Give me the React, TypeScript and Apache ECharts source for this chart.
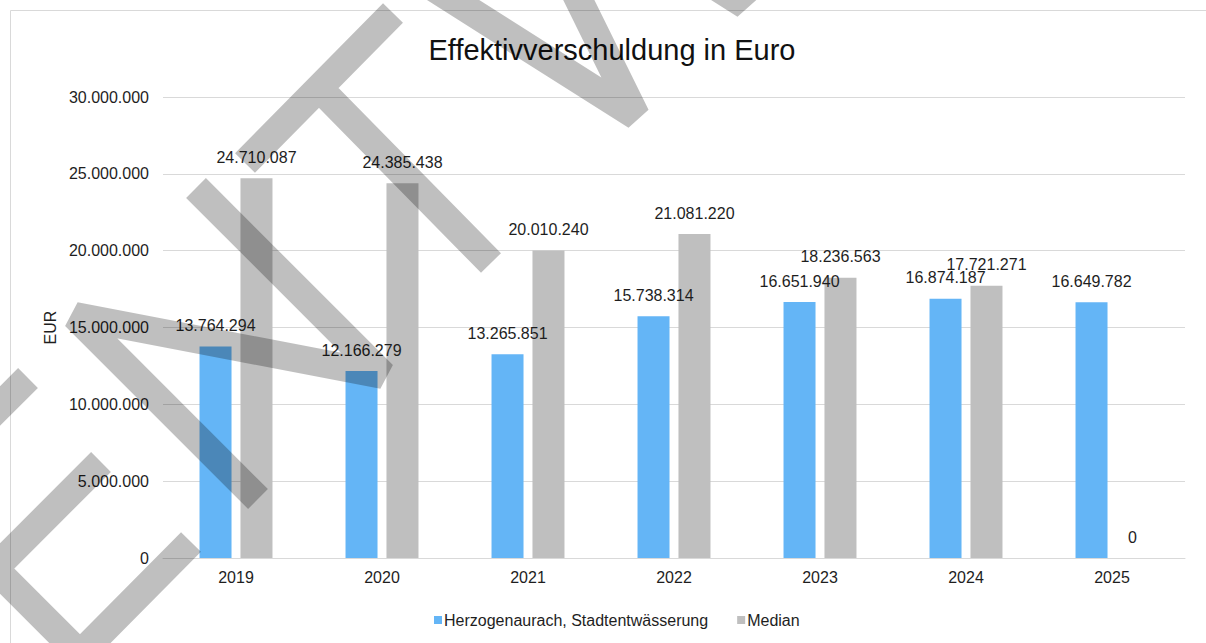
import React, { useEffect, useRef } from "react";
import * as echarts from "echarts";

const years = ["2019", "2020", "2021", "2022", "2023", "2024", "2025"];
const herzogenaurach = [13764294, 12166279, 13265851, 15738314, 16651940, 16874187, 16649782];
const median = [24710087, 24385438, 20010240, 21081220, 18236563, 17721271, 0];
const seriesNames = ["Herzogenaurach, Stadtentwässerung", "Median"];
const titleText = "Effektivverschuldung in Euro";
const axisName = "EUR";
const watermarkPath =
  "M28 378 L-84 490 L80 654 L191 542 M101 462 L-5 568 " +
  "M196 188 L383 375 L75 316 L258 499 " +
  "M245 163 L393 13 M319 88 L491 263 " +
  "M420 -21 L636 116 L564 -30 " +
  "M690 -30 L745 5 L728 -30";

const FONT = "'Liberation Sans', Arial, Helvetica, sans-serif";
const TXT = "#1e1e1e";

function fmt(v: number): string {
  return String(Math.round(v)).replace(/\B(?=(\d{3})+(?!\d))/g, ".");
}

let registered = false;

export default function App() {
  const ref = useRef<HTMLDivElement>(null);
  useEffect(() => {
    document.body.style.margin = "0";
    if (!registered) {
      echarts.graphic.registerShape("watermark", echarts.graphic.extendPath(watermarkPath, {}));
      registered = true;
    }
    const chart = echarts.init(ref.current!, undefined, { renderer: "svg" });
    const labelCfg = {
      show: true,
      position: "top",
      distance: 13,
      fontSize: 16,
      fontFamily: FONT,
      color: TXT,
      formatter: (p: any) => fmt(p.value),
    };
    chart.setOption({
      animation: false,
      backgroundColor: "#ffffff",
      textStyle: { fontFamily: FONT },
      title: {
        text: titleText,
        left: 607,
        textAlign: "center",
        top: 30,
        textStyle: { fontSize: 29, fontWeight: "normal", color: "#111111", fontFamily: FONT },
      },
      legend: {
        left: 429,
        top: 607,
        itemWidth: 8,
        itemHeight: 8,
        itemGap: 29,
        icon: "rect",
        textStyle: { fontSize: 16, color: TXT, fontFamily: FONT, padding: [0, 0, 0, -3] },
        data: seriesNames,
      },
      grid: { left: 163, right: 21, top: 97, bottom: 85, containLabel: false },
      xAxis: {
        type: "category",
        data: years,
        axisLine: { lineStyle: { color: "#D9D9D9", width: 1 } },
        axisTick: { show: false },
        axisLabel: { fontSize: 16, color: TXT, fontFamily: FONT, margin: 11 },
      },
      yAxis: {
        type: "value",
        min: 0,
        max: 30000000,
        interval: 5000000,
        name: axisName,
        nameLocation: "middle",
        nameRotate: 90,
        nameGap: 102,
        nameTextStyle: { fontSize: 16, color: TXT, fontFamily: FONT },
        axisLine: { show: false },
        axisTick: { show: false },
        splitLine: { lineStyle: { color: "#D9D9D9", width: 1 } },
        axisLabel: { fontSize: 16, color: TXT, fontFamily: FONT, margin: 14, formatter: (v: number) => fmt(v) },
      },
      series: [
        {
          name: seriesNames[0],
          type: "bar",
          data: herzogenaurach,
          barWidth: 32,
          barGap: "28%",
          itemStyle: { color: "#64B5F6" },
          label: labelCfg,
        },
        {
          name: seriesNames[1],
          type: "bar",
          data: median,
          barWidth: 32,
          barGap: "28%",
          itemStyle: { color: "#BFBFBF" },
          label: labelCfg,
        },
      ],
      graphic: [
        {
          type: "rect",
          z: 0,
          silent: true,
          shape: { x: 10.5, y: 10.5, width: 1300, height: 800 },
          style: { fill: "none", stroke: "#D9D9D9", lineWidth: 1 },
        },
        {
          type: "watermark",
          x: 0,
          y: 0,
          z: 100,
          silent: true,
          style: {
            fill: "none",
            stroke: "rgba(0,0,0,0.25)",
            lineWidth: 28,
            lineJoin: "bevel",
            lineCap: "butt",
          },
        },
      ],
    });
    return () => chart.dispose();
  }, []);
  return <div ref={ref} style={{ width: 1206, height: 643 }} />;
}
